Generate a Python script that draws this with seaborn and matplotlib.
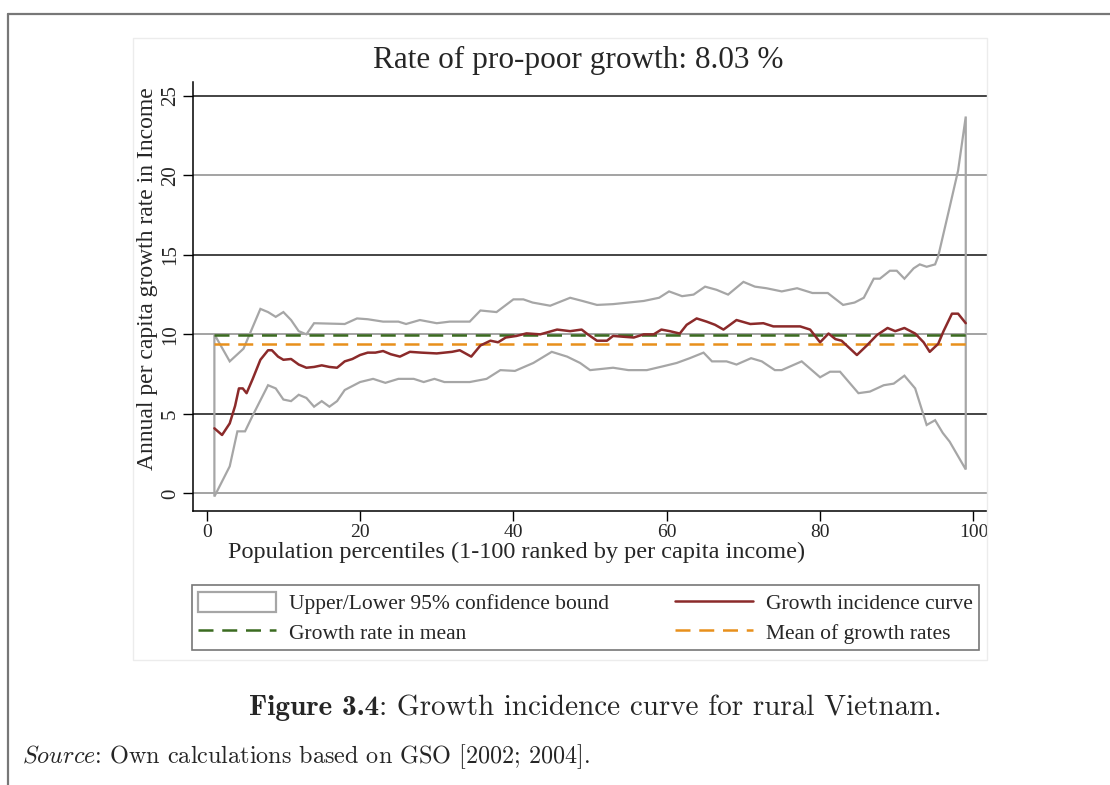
import numpy as np
import matplotlib
matplotlib.use("Agg")
import matplotlib.pyplot as plt
from matplotlib.lines import Line2D
from matplotlib.patches import Rectangle
import seaborn as sns

# growth incidence curve (percentile, annual growth %)
gic_p = [1, 2, 3, 3.7, 4.2, 4.7, 5.2, 6, 7, 8, 8.5, 9.3, 10, 11, 12, 13, 14, 15, 16, 17,
         18, 19, 20, 21, 22, 23, 24, 25.2, 26.5, 28, 30, 32, 33, 34.5, 35.7, 37, 38, 39,
         40.4, 41.7, 43.5, 45.7, 47.4, 48.9, 49.7, 50.9, 52.2, 53, 54.3, 55.7, 57, 58.3,
         59.3, 60.4, 61.7, 62.6, 63.9, 65.2, 66.3, 67.4, 69.1, 70.9, 72.6, 73.9, 76.5,
         77.4, 78.7, 80, 81.1, 82, 82.8, 84.8, 86.1, 87.4, 88.8, 89.8, 91, 92.4, 93.5,
         94.3, 95.4, 96.1, 97.2, 98, 99]
gic_v = [4.09, 3.67, 4.4, 5.5, 6.6, 6.6, 6.3, 7.2, 8.4, 9.0, 9.0, 8.6, 8.4, 8.45, 8.1, 7.9,
         7.95, 8.05, 7.95, 7.9, 8.3, 8.45, 8.7, 8.85, 8.85, 8.95, 8.75, 8.6, 8.9, 8.85, 8.8,
         8.9, 9.0, 8.6, 9.3, 9.6, 9.5, 9.8, 9.9, 10.06, 10.0, 10.3, 10.2, 10.3, 10.0, 9.6,
         9.6, 9.9, 9.85, 9.8, 10.0, 10.0, 10.3, 10.2, 10.05, 10.6, 11.0, 10.8, 10.6, 10.3,
         10.9, 10.65, 10.7, 10.5, 10.5, 10.5, 10.3, 9.5, 10.05, 9.7, 9.6, 8.7, 9.3, 9.95,
         10.4, 10.2, 10.4, 10.05, 9.5, 8.9, 9.4, 10.2, 11.3, 11.3, 10.7]

# upper 95% bound
up_p = [1, 3, 4.8, 7, 8, 9, 10, 11, 12, 13, 14, 18, 19.6, 21, 23, 25, 26, 27.8, 30, 31.7,
        34.3, 35.7, 37.8, 40, 41.3, 42.5, 44.8, 47.4, 49, 50.9, 53, 55, 57, 59, 60.3, 62,
        63.5, 65, 66.5, 68, 70, 71.5, 73, 75, 77, 79, 81, 83, 84.5, 85.7, 87, 87.8, 89.1,
        90, 91, 92.2, 93, 93.9, 95, 95.4, 96.9, 98, 99]
up_v = [10.0, 8.3, 9.1, 11.6, 11.4, 11.1, 11.4, 10.9, 10.2, 10.0, 10.7, 10.65, 11.0, 10.95,
        10.8, 10.8, 10.65, 10.9, 10.7, 10.8, 10.8, 11.5, 11.4, 12.2, 12.2, 12.0, 11.8, 12.3,
        12.1, 11.85, 11.9, 12.0, 12.1, 12.3, 12.7, 12.4, 12.5, 13.0, 12.8, 12.5, 13.3, 13.0,
        12.9, 12.7, 12.9, 12.6, 12.6, 11.85, 12.0, 12.3, 13.5, 13.5, 14.0, 14.0, 13.5, 14.15,
        14.4, 14.25, 14.4, 14.9, 18.0, 20.3, 23.7]

# lower 95% bound
lo_p = [1, 3, 4, 5, 6, 8, 9, 10, 11, 12, 13, 14, 15, 16, 17, 18, 20, 21.7, 23.3, 25, 27,
        28.3, 29.7, 31, 34.3, 36.5, 38.3, 40.2, 42.6, 45, 47, 48.7, 50, 53, 55, 57.4, 59.6,
        61.3, 63, 64.8, 65.9, 67.8, 69.1, 71, 72.4, 74.1, 75, 77.6, 80, 81.3, 82.6, 85,
        86.5, 88.3, 89.6, 91, 92.4, 93.9, 95, 96, 96.9, 99]
lo_v = [-0.2, 1.7, 3.9, 3.9, 4.9, 6.8, 6.6, 5.9, 5.8, 6.2, 6.0, 5.45, 5.8, 5.45, 5.8, 6.5,
        7.0, 7.2, 6.95, 7.2, 7.2, 7.0, 7.2, 7.0, 7.0, 7.2, 7.75, 7.7, 8.2, 8.9, 8.6, 8.2,
        7.75, 7.9, 7.75, 7.75, 8.0, 8.2, 8.5, 8.85, 8.3, 8.3, 8.1, 8.5, 8.3, 7.75, 7.75,
        8.3, 7.3, 7.65, 7.65, 6.3, 6.4, 6.8, 6.9, 7.4, 6.6, 4.3, 4.6, 3.8, 3.25, 1.5]

growth_in_mean = 9.94
mean_of_rates = 9.41
p_range = [1, 99]

yticks = [0, 5, 10, 15, 20, 25]
xticks = [0, 20, 40, 60, 80, 100]

sns.set_theme(style="white")
plt.rcParams['font.family'] = ['Liberation Serif', 'DejaVu Serif']
plt.rcParams['mathtext.fontset'] = 'cm'

W, H = 1110, 785
fig = plt.figure(figsize=(W / 100, H / 100), dpi=100)
ax = fig.add_axes([193 / W, 1 - 511 / H, (987 - 193) / W, (511 - 82) / H])

gray = '#a6a6a6'
red = '#8b2a2a'
green = '#3b6b20'
orange = '#e8901c'

# growth incidence curve first, no seaborn legend
sns.lineplot(x=gic_p, y=gic_v, ax=ax, color=red, lw=1.8, zorder=4, sort=False, legend=False)
l_gic = ax.lines[-1]
l_gic.set_label('Growth incidence curve')

# horizontal grid lines (alternating shade as in the source image)
for t in yticks:
    ax.axhline(t, color='#111111' if t % 10 else '#8a8a8a', lw=1.1, zorder=1)

# confidence band outline
ci = ax.fill(np.concatenate([up_p, lo_p[::-1]]), np.concatenate([up_v, lo_v[::-1]]),
             facecolor='none', edgecolor=gray, lw=1.6, zorder=2,
             label='Upper/Lower 95% confidence bound')[0]

l_gm, = ax.plot(p_range, [growth_in_mean] * 2, color=green, lw=1.8, dashes=(6, 3.5),
                zorder=3, label='Growth rate in mean')
l_mr, = ax.plot(p_range, [mean_of_rates] * 2, color=orange, lw=1.8, dashes=(6, 3.5),
                zorder=3, label='Mean of growth rates')

ax.set_xlim(-1.79, 101.77)
ax.set_ylim(-1.11, 25.87)
ax.set_xticks(xticks)
ax.set_yticks(yticks)
ax.set_xticklabels([str(t) for t in xticks], fontsize=14)
ax.set_yticklabels([str(t) for t in yticks], fontsize=15, rotation=90, va='center')
ax.tick_params(axis='both', direction='out', length=7, width=1, color='black',
               bottom=True, left=True, pad=2.5)
for s in ['top', 'right']:
    ax.spines[s].set_visible(False)
for s in ['left', 'bottom']:
    ax.spines[s].set_color('black')
    ax.spines[s].set_linewidth(1.1)
ax.set_facecolor('white')

fig.text(578 / W, 1 - 60 / H, 'Rate of pro-poor growth: 8.03 %', ha='center', va='center',
         fontsize=22.5)
fig.text(148 / W, 1 - 279 / H, 'Annual per capita growth rate in Income', rotation=90,
         ha='center', va='center', fontsize=17)
fig.text(517 / W, 1 - 552 / H, 'Population percentiles (1-100 ranked by per capita income)',
         ha='center', va='center', fontsize=17.5)

leg = fig.legend(handles=[ci, l_gm, l_gic, l_mr], ncol=2, loc='lower left',
                 bbox_to_anchor=(192 / W, 1 - 650 / H, (979 - 192) / W, (650 - 583) / H),
                 mode='expand', fontsize=15.5, frameon=True, fancybox=False,
                 edgecolor='#555555', handlelength=3.6, handleheight=1.1,
                 borderpad=0.3, labelspacing=0.3, handletextpad=0.6, borderaxespad=0)
leg.get_frame().set_linewidth(1.2)

# faint graph region border
fig.patches.append(Rectangle((133 / W, 1 - 660 / H), (987 - 133) / W, (660 - 38) / H,
                             transform=fig.transFigure, facecolor='none',
                             edgecolor='#ececec', lw=1, zorder=0))

# page frame
fig.add_artist(Line2D([8 / W, 1], [1 - 14 / H] * 2, color='#777777', lw=1.6))
fig.add_artist(Line2D([8 / W] * 2, [0, 1 - 14 / H], color='#777777', lw=1.6))

# caption: bold part + regular part, centred together
renderer = fig.canvas.get_renderer()
cap_y = 1 - 708 / H
t_bold = fig.text(0, cap_y, 'Figure 3.4', ha='left', va='center', fontsize=21, family='cmb10')
t_rest = fig.text(0, cap_y, ': Growth incidence curve for rural Vietnam.', ha='left',
                  va='center', fontsize=21, family='cmr10')
wb = t_bold.get_window_extent(renderer).width
wr = t_rest.get_window_extent(renderer).width
x0 = 595 - (wb + wr) / 2
t_bold.set_x(x0 / W)
t_rest.set_x((x0 + wb) / W)

fig.text(22 / W, 1 - 757 / H, r'$\mathit{Source}$: Own calculations based on GSO [2002; 2004].',
         ha='left', va='center', fontsize=17.4, family='cmr10')

fig.savefig('out.png', dpi=100)
